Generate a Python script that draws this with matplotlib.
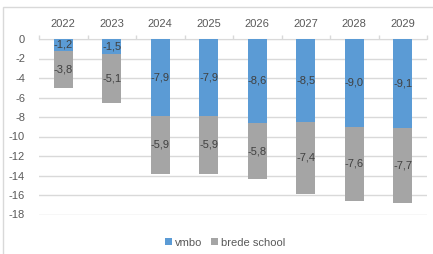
import numpy as np
import matplotlib
matplotlib.use('Agg')
import matplotlib.pyplot as plt
from matplotlib.patches import Rectangle

years = ['2022', '2023', '2024', '2025', '2026', '2027', '2028', '2029']
vmbo = [-1.2, -1.5, -7.9, -7.9, -8.6, -8.5, -9.0, -9.1]
brede_school = [-3.8, -5.1, -5.9, -5.9, -5.8, -7.4, -7.6, -7.7]

BLUE = '#5B9BD5'
GRAY = '#A5A5A5'
TEXT = '#595959'

plt.rcParams['font.family'] = ['Liberation Sans', 'DejaVu Sans']

fig = plt.figure(figsize=(4.33, 2.54), dpi=100)
# chart border
fig.patches.append(Rectangle((3 / 433, -0.1), 1.1, 1 - 7 / 254 + 0.1,
                             transform=fig.transFigure, fill=False,
                             edgecolor='#D9D9D9', linewidth=1.0))

ax = fig.add_axes([39 / 433, 1 - 214.5 / 254, 388 / 433, (214.5 - 39) / 254])

x = np.arange(len(years))
w = 0.4
ax.bar(x, vmbo, w, color=BLUE, label='vmbo', zorder=3)
ax.bar(x, brede_school, w, bottom=vmbo, color=GRAY, label='brede school', zorder=3)

def fmt(v):
    return f'{v:.1f}'.replace('.', ',')

for i in range(len(years)):
    ax.text(x[i], vmbo[i] / 2, fmt(vmbo[i]), ha='center', va='center',
            fontsize=8, color='#404040', zorder=4)
    ax.text(x[i], vmbo[i] + brede_school[i] / 2, fmt(brede_school[i]),
            ha='center', va='center', fontsize=8, color='#404040', zorder=4)

ax.set_xlim(-0.5, len(years) - 0.5)
ax.set_ylim(-18, 0)
ax.set_yticks(np.arange(-18, 1, 2))
ax.set_yticklabels([str(v) for v in range(-18, 1, 2)])
ax.yaxis.grid(True, color='#D9D9D9', linewidth=1.0, zorder=0)
ax.tick_params(axis='y', length=0, labelsize=8, labelcolor=TEXT, pad=10)

ax.xaxis.tick_top()
ax.set_xticks(x)
ax.set_xticklabels(years)
ax.set_xticks(np.arange(-0.5, len(years)), minor=True)
ax.tick_params(axis='x', which='major', length=0, labelsize=8, labelcolor=TEXT, pad=7)
ax.tick_params(axis='x', which='minor', length=3, color='#D9D9D9', width=1.0)

for s in ['left', 'right', 'bottom']:
    ax.spines[s].set_visible(False)
ax.spines['top'].set_color('#D9D9D9')
ax.spines['top'].set_position(('data', 0))

ax.legend(loc='upper center', bbox_to_anchor=(0.48, -0.075), ncol=2, frameon=False,
          fontsize=8, labelcolor=TEXT, handlelength=0.6, handleheight=0.6,
          handletextpad=0.3, columnspacing=0.8)

fig.savefig('out.png', dpi=100)
